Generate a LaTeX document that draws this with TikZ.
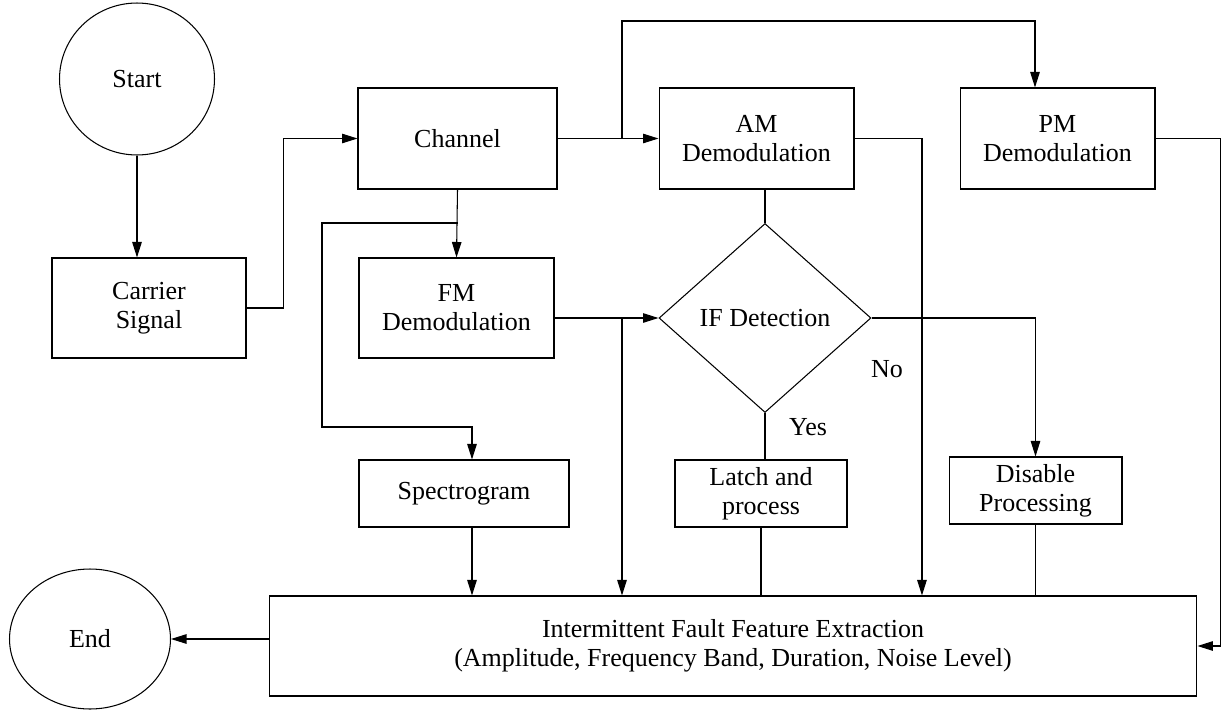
\documentclass[tikz,border=0pt]{standalone}
\usepackage{fontspec}
\setmainfont{Liberation Serif}
\usetikzlibrary{shapes.geometric,arrows.meta}

\begin{document}
\begin{tikzpicture}[x=0.02cm,y=-0.02cm,
  every node/.style={font=\fontsize{14.8}{16.5}\selectfont},
  box/.style={draw,line width=0.6pt,align=center,inner sep=0pt},
  term/.style={draw,ellipse,line width=0.6pt,inner sep=0pt},
  decide/.style={draw,diamond,line width=0.6pt,inner sep=0pt,minimum width=4.24cm,minimum height=3.78cm},
  arr/.style={line width=0.6pt,-{Triangle[length=3.1mm,width=1.9mm]}},
  link/.style={line width=0.6pt}]
\useasboundingbox (0,0) rectangle (1227,710);
% terminals
\node[term,minimum width=3.1cm,minimum height=3.04cm] (start) at (137,79) {Start};
\node[term,minimum width=3.22cm,minimum height=2.8cm] (stop) at (90,639) {End};
% process boxes
\node[box,minimum width=3.88cm,minimum height=2.0cm] (carrier) at (149,308) {Carrier\\Signal};
\node[box,minimum width=3.98cm,minimum height=2.02cm] (channel) at (457.5,138.5) {Channel};
\node[box,minimum width=3.9cm,minimum height=2.02cm] (am) at (756.5,138.5) {AM\\Demodulation};
\node[box,minimum width=3.9cm,minimum height=2.02cm] (pm) at (1057.5,138.5) {PM\\Demodulation};
\node[box,minimum width=3.9cm,minimum height=2.0cm] (fm) at (456.5,308) {FM\\Demodulation};
\node[decide] (ifdet) at (765,318) {IF Detection};
\node[box,minimum width=4.2cm,minimum height=1.34cm] (spec) at (464,493.5) {Spectrogram};
\node[box,minimum width=3.44cm,minimum height=1.34cm] (latch) at (761,493.5) {Latch and\\process};
\node[box,minimum width=3.46cm,minimum height=1.34cm] (disable) at (1035.5,490.5) {Disable\\Processing};
\node[box,minimum width=18.56cm,minimum height=2.0cm] (ife) at (733,646)
 {Intermittent Fault Feature Extraction\\(Amplitude, Frequency Band, Duration, Noise Level)};
% branch points
\coordinate (j1) at (622,138.5);
\coordinate (t1) at (1035,21);
\coordinate (j2) at (457.5,223);
\coordinate (j3) at (622,318);
% connectors
\draw[arr] (start.south) -- (start.south |- carrier.north);
\draw[arr] (carrier.east) -- ++(37,0) |- (channel.west);
\draw[arr] (channel.east) -- (am.west);
\draw[arr] (j1) |- (t1) -- (t1 |- pm.north);
\draw[arr] (channel.south) -- (fm.north);
\draw[arr] (j2) -| (322,427) -| ([xshift=0.16cm]spec.north);
\draw[arr] (fm.east |- ifdet.west) -- (ifdet.west);
\draw[arr] (j3) -- (j3 |- ife.north);
\draw[link] (ifdet.north) -- (ifdet.north |- am.south);
\draw[arr] (am.east) -| ([xshift=3.78cm]ife.north);
\draw[arr] (pm.east) -- ++(65,0) |- (ife.east);
\draw[arr] (ifdet.east) -| (disable.north);
\draw[link] (ifdet.south) -- (ifdet.south |- latch.north);
\draw[link] (latch.south) -- (latch.south |- ife.north);
\draw[link] (disable.south) -- (disable.south |- ife.north);
\draw[arr] ([xshift=0.16cm]spec.south) -- ([xshift=0.16cm]spec.south |- ife.north);
\draw[arr] (ife.west |- stop.east) -- (stop.east);
% branch labels
\node (no) at (887,369) {No};
\node (yes) at (808,427) {Yes};
\end{tikzpicture}
\end{document}
